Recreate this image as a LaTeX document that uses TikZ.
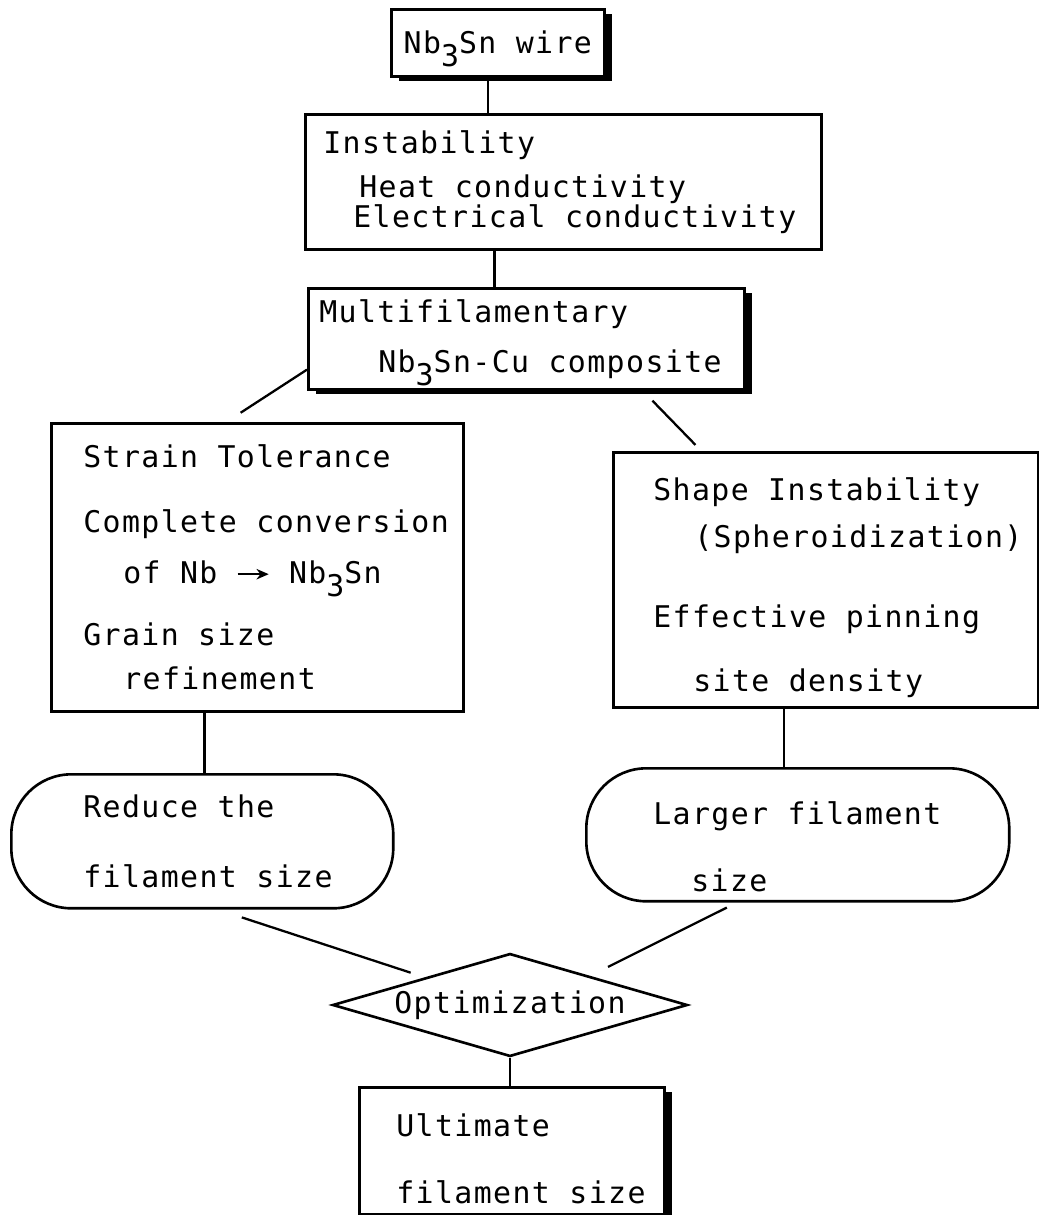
\documentclass[tikz,border=0pt]{standalone}
\usepackage{fontspec}
\usetikzlibrary{positioning, arrows.meta, shapes.geometric, shadows}
\newfontfamily\typefont{DejaVu Sans Mono}[LetterSpace=4.7]
\newcommand{\NbSn}{Nb\raisebox{-7.4pt}[0pt][0pt]{3}Sn}
\newcommand{\yields}{\tikz[baseline=-0.55ex]\draw[line width=1pt, -{Stealth[length=7pt, width=6pt]}] (0,0) -- (0.62cm,0);}
\tikzset{
  panel/.style    = {rectangle, draw, line width=1.5pt, fill=white, align=left,
                     anchor=north west, inner xsep=0.1cm, inner ysep=0pt,
                     font=\typefont\fontsize{17}{17}\selectfont,
                     execute at begin node={\spaceskip=11.05pt\relax}},
  shadowed/.style = {drop shadow={shadow xshift=0.15cm, shadow yshift=-0.1cm,
                     fill=black, opacity=1}},
  capsule/.style  = {panel, rounded corners=1.2cm},
  choice/.style   = {diamond, draw, line width=1.5pt, fill=white, aspect=3.4,
                     minimum width=7.1cm, minimum height=2.06cm, inner sep=0pt,
                     font=\typefont\fontsize{17}{17}\selectfont},
  link/.style     = {line width=1.3pt},
}
\begin{document}
\begin{tikzpicture}[x=0.02cm, y=-0.02cm]
\useasboundingbox (0,0) rectangle (1039,1215);

% Top column: the wire, its problem, the composite answer
\node (wire)  [panel, shadowed, align=center, text width=4.06cm, minimum height=1.34cm] at (390,8) {\NbSn{} wire};
\node (inst)  [panel, text width=10.12cm, minimum height=2.7cm] at (304,113)
  {\hspace*{0.26cm}Instability\\[8pt]
   \hspace*{0.98cm}Heat conductivity\\
   \hspace*{0.86cm}Electrical conductivity};
\node (multi) [panel, shadowed, text width=8.52cm, minimum height=2.02cm] at (307,287)
  {\hspace*{0.12cm}Multifilamentary\\[11.4pt]
   \hspace*{1.3cm}\NbSn-Cu composite};

% Two branches
\node (strain) [panel, text width=8.04cm, minimum height=5.76cm] at (50,422)
  {\hspace*{0.54cm}Strain Tolerance\\[20pt]
   \hspace*{0.54cm}Complete conversion\\[12pt]
   \hspace*{1.34cm}of Nb \yields{} \NbSn\\[18.2pt]
   \hspace*{0.54cm}Grain size\\[8.5pt]
   \hspace*{1.34cm}refinement};
\node (shape) [panel, text width=8.3cm, minimum height=5.1cm] at (612,451)
  {\rule{0pt}{22pt}\hspace*{0.7cm}Shape Instability\\[10.2pt]
   \hspace*{1.52cm}(Spheroidization)\\[28.5pt]
   \hspace*{0.7cm}Effective pinning\\[19.4pt]
   \hspace*{1.5cm}site density};

\node (reduce) [capsule, text width=7.44cm, minimum height=2.68cm] at (10,773)
  {\hspace*{1.34cm}Reduce the\\[22.8pt]
   \hspace*{1.34cm}filament size};
\node (larger) [capsule, text width=8.26cm, minimum height=2.66cm] at (585,767)
  {\rule{0pt}{26.5pt}\hspace*{1.24cm}Larger filament\\[21pt]
   \hspace*{2cm}size};

% Merge and result
\node (optim) [choice] at (510,1005) {Optimization};
\node (ultim) [panel, shadowed, text width=5.9cm, minimum height=2.54cm] at (358,1086)
  {\rule{0pt}{22pt}\hspace*{0.64cm}Ultimate\\[21.6pt]
   \hspace*{0.64cm}filament size};

% Connectors (plain lines, some with free ends)
\draw [link] (wire.-106) -- (wire.-106 |- inst.north);
\draw [link] (inst.-135) -- (inst.-135 |- multi.north);
\draw [link, shorten >=0.34cm] (multi.188) -- (strain.102);
\draw [link, shorten <=0.28cm, shorten >=0.17cm] (multi.-24) -- (shape.134);
\draw [link] (strain.-110) -- (strain.-110 |- reduce.north);
\draw [link] (shape.-108) -- (shape.-108 |- larger.north);
\draw [link, shorten <=0.5cm, shorten >=0.3cm] (reduce.-77) -- (optim.162);
\draw [link, shorten <=0.22cm, shorten >=0.4cm] (larger.-132) -- (optim.20);
\draw [link] (optim.south) -- (optim.south |- ultim.north);

\end{tikzpicture}
\end{document}
